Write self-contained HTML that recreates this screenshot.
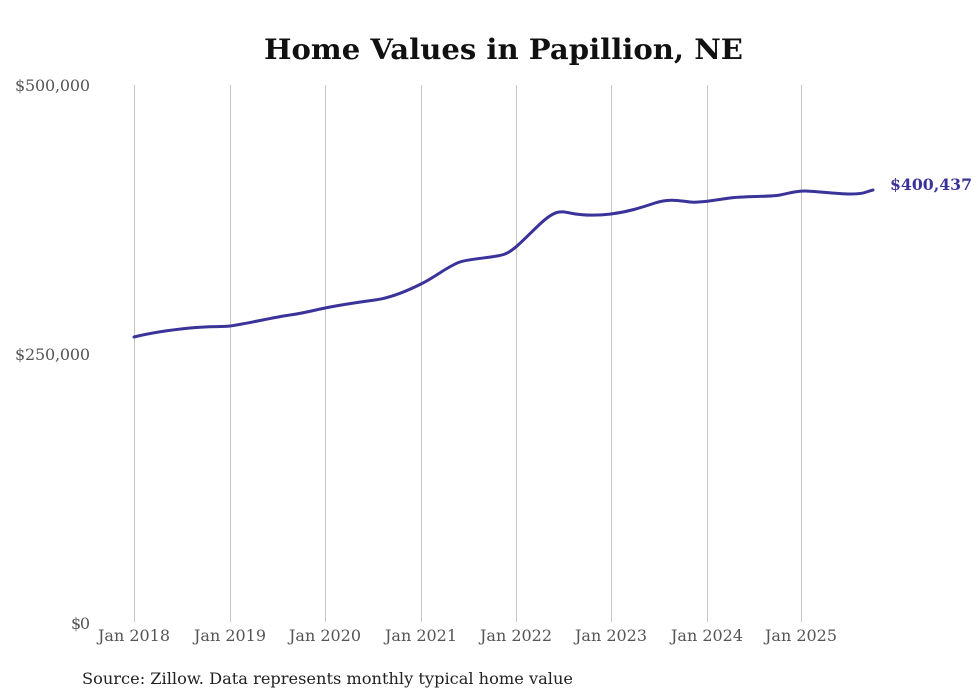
<!DOCTYPE html>
<html><head><style>body{margin:0;background:#fff}svg{display:block}</style></head><body>
<svg width="980" height="699" xmlns="http://www.w3.org/2000/svg" font-family="'DejaVu Serif','Liberation Serif',serif">
<rect width="980" height="699" fill="#fff"/>
<text x="264" y="59" font-size="28" font-weight="bold" fill="#111" textLength="479" lengthAdjust="spacingAndGlyphs">Home Values in Papillion, NE</text>
<g stroke="#c4c4c4" stroke-width="1">
<line x1="134.5" y1="85" x2="134.5" y2="622"/>
<line x1="230.5" y1="85" x2="230.5" y2="622"/>
<line x1="325.5" y1="85" x2="325.5" y2="622"/>
<line x1="421.5" y1="85" x2="421.5" y2="622"/>
<line x1="516.5" y1="85" x2="516.5" y2="622"/>
<line x1="611.5" y1="85" x2="611.5" y2="622"/>
<line x1="707.5" y1="85" x2="707.5" y2="622"/>
<line x1="801.5" y1="85" x2="801.5" y2="622"/>
</g>
<g font-size="16" fill="#555" lengthAdjust="spacingAndGlyphs">
<text x="15" y="91" textLength="75">$500,000</text>
<text x="15" y="360" textLength="75">$250,000</text>
<text x="71" y="629" textLength="19">$0</text>
</g>
<g font-size="16" fill="#555">
<text x="98" y="641" textLength="72" lengthAdjust="spacingAndGlyphs">Jan 2018</text>
<text x="194" y="641" textLength="72" lengthAdjust="spacingAndGlyphs">Jan 2019</text>
<text x="289" y="641" textLength="72" lengthAdjust="spacingAndGlyphs">Jan 2020</text>
<text x="385" y="641" textLength="72" lengthAdjust="spacingAndGlyphs">Jan 2021</text>
<text x="480" y="641" textLength="72" lengthAdjust="spacingAndGlyphs">Jan 2022</text>
<text x="575" y="641" textLength="72" lengthAdjust="spacingAndGlyphs">Jan 2023</text>
<text x="671" y="641" textLength="72" lengthAdjust="spacingAndGlyphs">Jan 2024</text>
<text x="765" y="641" textLength="72" lengthAdjust="spacingAndGlyphs">Jan 2025</text>
</g>
<path fill="none" stroke="#3a3399" stroke-width="3" stroke-linejoin="round" stroke-linecap="round"
d="M134,337 C150,333 170,330 190,328 S220,327 230,326 S275,317 290,315 S315,310 325,308 S360,302 375,300 S405,292 421,284 S448,266 460,262 S495,258 505,254 S525,238 540,224 S560,211 570,213 S595,216 611,214 S640,208 655,203 S680,201 690,202 S715,200 730,198 S770,197 780,195 S795,191 805,191 S835,194 850,194 S865,192 873,190"/>
<text x="890" y="190" font-size="16" font-weight="bold" fill="#3a3399" textLength="82" lengthAdjust="spacingAndGlyphs">$400,437</text>
<text x="82" y="684" font-size="16" fill="#222" textLength="491" lengthAdjust="spacingAndGlyphs">Source: Zillow. Data represents monthly typical home value</text>
</svg>
</body></html>
